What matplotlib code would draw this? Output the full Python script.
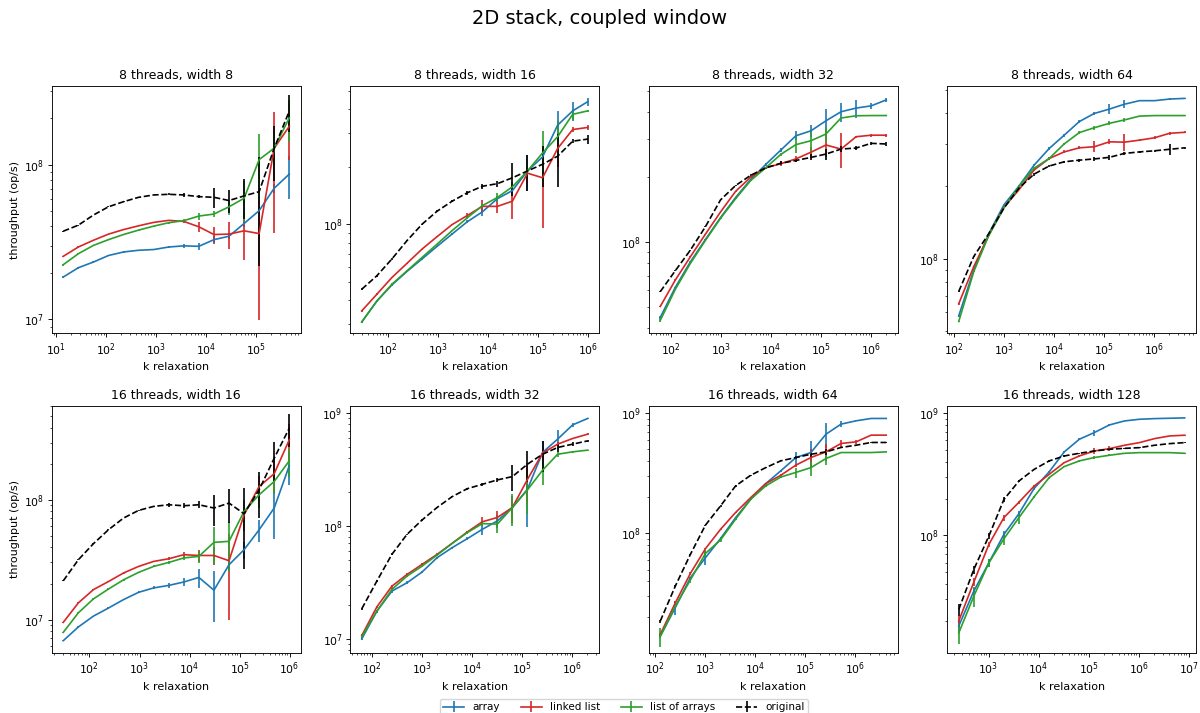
import matplotlib
matplotlib.use("Agg")
import matplotlib.pyplot as plt
from matplotlib.ticker import NullFormatter

# relaxation values (x) per width
k_w8 = [14, 28, 56, 112, 224, 448, 896, 1792, 3584, 7168, 14336, 28672, 57344, 114688, 229376, 458752]
k_w16 = [30, 60, 120, 240, 480, 960, 1920, 3840, 7680, 15360, 30720, 61440, 122880, 245760, 491520, 983040]
k_w32 = [62, 124, 248, 496, 992, 1984, 3968, 7936, 15872, 31744, 63488, 126976, 253952, 507904, 1015808, 2031616]
k_w64 = [126, 252, 504, 1008, 2016, 4032, 8064, 16128, 32256, 64512, 129024, 258048, 516096, 1032192, 2064384, 4128768]
k_w128 = [254, 508, 1016, 2032, 4064, 8128, 16256, 32512, 65024, 130048, 260096, 520192, 1040384, 2080768, 4161536, 8323072]

# throughput in millions of op/s, and error (millions)
# --- 8 threads, width 8
t8w8_array = [18.8, 21.6, 23.5, 25.9, 27.3, 28.0, 28.3, 29.4, 29.9, 29.7, 32.8, 34.5, 41.7, 50.5, 70.5, 87.0]
t8w8_array_err = [0.3, 0.3, 0.3, 0.3, 0.3, 0.3, 0.3, 0.5, 0.8, 1.5, 2.0, 1.5, 2.0, 3.0, 5.0, 27.0]
t8w8_linked = [25.6, 29.4, 32.5, 35.6, 38.1, 40.3, 42.4, 43.7, 43.0, 39.7, 35.4, 35.6, 37.4, 35.9, 128.0, 177.0]
t8w8_linked_err = [0.3, 0.3, 0.3, 0.3, 0.3, 0.3, 0.3, 0.5, 0.8, 3.0, 4.0, 7.0, 13.0, 26.0, 92.0, 70.0]
t8w8_loa = [22.6, 26.6, 30.1, 32.8, 35.4, 37.8, 40.1, 42.2, 43.5, 46.6, 48.0, 53.5, 60.7, 108.0, 128.0, 201.0]
t8w8_loa_err = [0.3, 0.3, 0.3, 0.3, 0.3, 0.3, 0.3, 0.5, 0.8, 2.5, 2.0, 6.0, 18.0, 50.0, 30.0, 60.0]
t8w8_orig = [37.2, 40.7, 47.3, 53.5, 57.7, 61.6, 63.8, 64.4, 63.8, 62.2, 61.6, 58.7, 62.9, 67.0, 128.0, 222.0]
t8w8_orig_err = [0.3, 0.3, 0.3, 0.3, 0.3, 0.3, 0.3, 1.0, 1.5, 1.5, 9.0, 10.0, 18.0, 45.0, 50.0, 60.0]

# --- 8 threads, width 16
t8w16_array = [30.8, 39.6, 48.1, 56.6, 65.8, 76.6, 88.9, 103.0, 116.0, 136.0, 150.0, 190.0, 225.0, 330.0, 392.0, 438.0]
t8w16_array_err = [0.5, 0.5, 0.5, 0.5, 0.5, 0.5, 1.0, 2.0, 6.0, 4.0, 8.0, 40.0, 20.0, 60.0, 45.0, 20.0]
t8w16_linked = [35.2, 43.0, 52.6, 62.4, 74.1, 86.1, 99.6, 111.0, 124.0, 124.0, 132.0, 185.0, 175.0, 249.0, 313.0, 321.0]
t8w16_linked_err = [0.5, 0.5, 0.5, 0.5, 0.5, 0.5, 1.0, 3.0, 10.0, 10.0, 25.0, 20.0, 80.0, 50.0, 8.0, 8.0]
t8w16_loa = [30.8, 39.6, 48.5, 57.0, 67.0, 78.7, 92.6, 108.0, 125.0, 138.0, 157.0, 190.0, 236.0, 287.0, 376.0, 392.0]
t8w16_loa_err = [0.5, 0.5, 0.5, 0.5, 0.5, 0.5, 1.0, 2.0, 3.0, 8.0, 10.0, 15.0, 70.0, 60.0, 25.0, 3.0]
t8w16_orig = [45.7, 53.7, 65.8, 82.0, 100.0, 117.0, 132.0, 146.0, 158.0, 163.0, 175.0, 190.0, 206.0, 227.0, 272.0, 279.0]
t8w16_orig_err = [0.5, 0.5, 0.5, 0.5, 0.5, 1.0, 2.0, 3.0, 5.0, 6.0, 35.0, 40.0, 50.0, 70.0, 7.0, 15.0]

# --- 8 threads, width 32
t8w32_array = [44.8, 61.8, 81.1, 103.0, 130.0, 161.0, 195.0, 229.0, 267.0, 311.0, 328.0, 365.0, 402.0, 418.0, 428.0, 456.0]
t8w32_array_err = [0.5, 0.5, 0.5, 0.5, 0.5, 0.5, 1.0, 3.0, 6.0, 15.0, 20.0, 50.0, 40.0, 40.0, 12.0, 8.0]
t8w32_linked = [50.4, 66.8, 85.6, 109.0, 138.0, 172.0, 200.0, 221.0, 231.0, 243.0, 261.0, 282.0, 270.0, 308.0, 313.0, 313.0]
t8w32_linked_err = [0.5, 0.5, 0.5, 0.5, 0.5, 0.5, 1.0, 2.0, 6.0, 8.0, 15.0, 35.0, 50.0, 3.0, 5.0, 5.0]
t8w32_loa = [43.4, 60.5, 79.8, 102.0, 129.0, 159.0, 193.0, 221.0, 255.0, 283.0, 295.0, 317.0, 376.0, 385.0, 386.0, 386.0]
t8w32_loa_err = [0.5, 0.5, 0.5, 0.5, 0.5, 0.5, 1.0, 2.0, 3.0, 25.0, 30.0, 25.0, 3.0, 2.0, 2.0, 2.0]
t8w32_orig = [59.0, 73.8, 91.9, 118.0, 157.0, 183.0, 204.0, 221.0, 232.0, 239.0, 247.0, 256.0, 270.0, 273.0, 287.0, 285.0]
t8w32_orig_err = [0.5, 0.5, 0.5, 0.5, 0.5, 1.0, 3.0, 3.0, 5.0, 5.0, 8.0, 15.0, 8.0, 5.0, 5.0, 5.0]

# --- 8 threads, width 64
t8w64_array = [57.8, 89.7, 127.0, 167.0, 200.0, 244.0, 286.0, 325.0, 370.0, 400.0, 417.0, 437.0, 452.0, 452.0, 459.0, 462.0]
t8w64_array_err = [0.5, 0.5, 0.5, 0.5, 1.0, 2.0, 3.0, 5.0, 4.0, 4.0, 20.0, 17.0, 3.0, 3.0, 3.0, 2.0]
t8w64_linked = [64.9, 92.6, 125.0, 163.0, 193.0, 233.0, 260.0, 277.0, 288.0, 291.0, 305.0, 304.0, 310.0, 317.0, 331.0, 334.0]
t8w64_linked_err = [0.5, 0.5, 0.5, 0.5, 1.0, 2.0, 3.0, 4.0, 4.0, 15.0, 7.0, 25.0, 3.0, 4.0, 4.0, 3.0]
t8w64_loa = [54.8, 88.3, 125.0, 162.0, 199.0, 237.0, 260.0, 299.0, 333.0, 349.0, 364.0, 376.0, 390.0, 392.0, 392.0, 392.0]
t8w64_loa_err = [0.5, 0.5, 0.5, 0.5, 1.0, 2.0, 3.0, 4.0, 5.0, 7.0, 7.0, 7.0, 2.0, 2.0, 2.0, 2.0]
t8w64_orig = [73.0, 102.0, 127.0, 162.0, 196.0, 224.0, 242.0, 252.0, 256.0, 259.0, 263.0, 273.0, 277.0, 280.0, 284.0, 288.0]
t8w64_orig_err = [0.5, 0.5, 0.5, 0.5, 1.0, 3.0, 3.0, 3.0, 4.0, 4.0, 6.0, 4.0, 3.0, 3.0, 15.0, 3.0]

# --- 16 threads, width 16
t16w16_array = [6.68, 8.69, 10.7, 12.5, 14.7, 16.9, 18.4, 19.3, 20.6, 22.5, 17.6, 28.7, 38.3, 56.2, 85.3, 192.0]
t16w16_array_err = [0.1, 0.1, 0.1, 0.2, 0.2, 0.3, 0.5, 0.8, 1.5, 4.0, 8.0, 3.0, 6.0, 12.0, 38.0, 60.0]
t16w16_linked = [9.5, 13.8, 17.8, 20.8, 24.5, 27.8, 30.6, 32.2, 34.8, 34.3, 34.3, 31.0, 75.0, 129.0, 165.0, 316.0]
t16w16_linked_err = [0.1, 0.1, 0.2, 0.2, 0.3, 0.3, 0.5, 1.0, 2.0, 4.0, 6.0, 21.0, 20.0, 30.0, 50.0, 110.0]
t16w16_loa = [7.84, 11.4, 14.9, 18.0, 21.5, 24.8, 27.8, 30.0, 32.7, 33.7, 44.1, 45.0, 80.0, 110.0, 142.0, 211.0]
t16w16_loa_err = [0.1, 0.1, 0.2, 0.2, 0.3, 0.3, 0.5, 1.0, 1.5, 4.0, 15.0, 20.0, 20.0, 25.0, 30.0, 55.0]
t16w16_orig = [21.1, 31.6, 43.0, 56.2, 70.4, 81.5, 88.0, 90.8, 89.1, 90.8, 85.3, 93.8, 76.4, 121.0, 222.0, 395.0]
t16w16_orig_err = [0.2, 0.3, 0.3, 0.5, 0.5, 1.0, 1.5, 3.0, 4.0, 6.0, 25.0, 30.0, 50.0, 50.0, 80.0, 120.0]

# --- 16 threads, width 32
t16w32_array = [10.0, 17.6, 26.5, 31.4, 39.1, 52.4, 64.3, 77.2, 93.4, 111.0, 146.0, 212.0, 448.0, 588.0, 787.0, 897.0]
t16w32_array_err = [0.3, 0.5, 1.0, 1.0, 1.0, 1.0, 1.5, 2.0, 10.0, 15.0, 20.0, 115.0, 120.0, 120.0, 30.0, 15.0]
t16w32_linked = [10.7, 19.2, 29.3, 37.2, 45.7, 56.1, 70.2, 88.5, 109.0, 119.0, 146.0, 259.0, 442.0, 531.0, 596.0, 651.0]
t16w32_linked_err = [0.3, 0.5, 1.0, 1.0, 1.0, 1.0, 1.0, 2.0, 10.0, 18.0, 40.0, 100.0, 50.0, 20.0, 10.0, 10.0]
t16w32_loa = [10.4, 17.6, 27.4, 36.0, 44.1, 55.3, 70.2, 87.3, 105.0, 104.0, 146.0, 209.0, 312.0, 432.0, 454.0, 470.0]
t16w32_loa_err = [0.3, 0.5, 1.0, 1.0, 1.0, 1.0, 1.0, 2.0, 5.0, 18.0, 45.0, 80.0, 80.0, 20.0, 10.0, 5.0]
t16w32_orig = [18.5, 32.5, 56.1, 84.3, 113.0, 146.0, 182.0, 214.0, 234.0, 256.0, 274.0, 353.0, 432.0, 496.0, 531.0, 568.0]
t16w32_orig_err = [0.3, 0.5, 1.0, 1.0, 2.0, 2.0, 3.0, 5.0, 8.0, 10.0, 70.0, 110.0, 130.0, 40.0, 20.0, 10.0]

# --- 16 threads, width 64
t16w64_array = [13.9, 24.1, 42.7, 62.7, 90.4, 135.0, 192.0, 259.0, 331.0, 427.0, 470.0, 668.0, 810.0, 863.0, 903.0, 903.0]
t16w64_array_err = [0.5, 3.0, 1.0, 8.0, 3.0, 3.0, 3.0, 5.0, 5.0, 50.0, 120.0, 160.0, 50.0, 10.0, 5.0, 5.0]
t16w64_linked = [14.4, 26.4, 46.4, 74.5, 108.0, 149.0, 198.0, 259.0, 304.0, 369.0, 427.0, 476.0, 559.0, 577.0, 656.0, 656.0]
t16w64_linked_err = [0.5, 1.0, 1.0, 1.0, 1.0, 2.0, 3.0, 4.0, 5.0, 10.0, 80.0, 80.0, 40.0, 20.0, 5.0, 5.0]
t16w64_loa = [13.9, 24.8, 40.9, 68.1, 88.0, 131.0, 192.0, 248.0, 294.0, 321.0, 352.0, 419.0, 470.0, 470.0, 470.0, 476.0]
t16w64_loa_err = [2.5, 1.0, 2.5, 4.0, 4.0, 3.0, 3.0, 4.0, 5.0, 30.0, 50.0, 50.0, 5.0, 3.0, 3.0, 3.0]
t16w64_orig = [18.6, 36.4, 66.8, 117.0, 169.0, 248.0, 304.0, 352.0, 401.0, 427.0, 455.0, 476.0, 518.0, 541.0, 570.0, 570.0]
t16w64_orig_err = [0.5, 0.5, 1.0, 1.0, 2.0, 3.0, 3.0, 3.0, 5.0, 10.0, 20.0, 30.0, 5.0, 5.0, 5.0, 5.0]

# --- 16 threads, width 128
t16w128_array = [18.1, 35.0, 59.7, 102.0, 151.0, 242.0, 331.0, 482.0, 612.0, 695.0, 802.0, 865.0, 893.0, 904.0, 910.0, 916.0]
t16w128_array_err = [2.0, 2.0, 5.0, 6.0, 8.0, 5.0, 5.0, 5.0, 10.0, 40.0, 15.0, 5.0, 5.0, 5.0, 5.0, 5.0]
t16w128_linked = [19.9, 41.4, 84.3, 140.0, 187.0, 253.0, 316.0, 394.0, 447.0, 491.0, 513.0, 547.0, 575.0, 620.0, 652.0, 661.0]
t16w128_linked_err = [2.0, 3.0, 4.0, 8.0, 6.0, 5.0, 5.0, 5.0, 10.0, 25.0, 25.0, 5.0, 5.0, 5.0, 5.0, 5.0]
t16w128_loa = [15.9, 31.8, 59.7, 93.9, 140.0, 207.0, 297.0, 366.0, 407.0, 434.0, 453.0, 470.0, 476.0, 476.0, 476.0, 470.0]
t16w128_loa_err = [3.0, 6.0, 5.0, 10.0, 15.0, 5.0, 5.0, 5.0, 5.0, 10.0, 10.0, 3.0, 3.0, 3.0, 3.0, 3.0]
t16w128_orig = [24.7, 52.6, 98.8, 197.0, 279.0, 347.0, 407.0, 447.0, 470.0, 491.0, 507.0, 516.0, 523.0, 547.0, 564.0, 575.0]
t16w128_orig_err = [3.0, 4.0, 5.0, 10.0, 5.0, 5.0, 5.0, 5.0, 5.0, 5.0, 5.0, 5.0, 5.0, 5.0, 5.0, 5.0]

titles = ["8 threads, width 8", "8 threads, width 16", "8 threads, width 32", "8 threads, width 64",
          "16 threads, width 16", "16 threads, width 32", "16 threads, width 64", "16 threads, width 128"]
x_sets = [k_w8, k_w16, k_w32, k_w64, k_w16, k_w32, k_w64, k_w128]
y_limits = [(8.15e6, 3.23e8), (2.69e7, 5.29e8), (3.79e7, 5.29e8), (4.9e7, 5.2e8),
            (5.27e6, 6.07e8), (7.5e6, 1.16e9), (1.01e7, 1.15e9), (1.09e7, 1.15e9)]

panels = [
    [(t8w8_array, t8w8_array_err), (t8w8_linked, t8w8_linked_err), (t8w8_loa, t8w8_loa_err), (t8w8_orig, t8w8_orig_err)],
    [(t8w16_array, t8w16_array_err), (t8w16_linked, t8w16_linked_err), (t8w16_loa, t8w16_loa_err), (t8w16_orig, t8w16_orig_err)],
    [(t8w32_array, t8w32_array_err), (t8w32_linked, t8w32_linked_err), (t8w32_loa, t8w32_loa_err), (t8w32_orig, t8w32_orig_err)],
    [(t8w64_array, t8w64_array_err), (t8w64_linked, t8w64_linked_err), (t8w64_loa, t8w64_loa_err), (t8w64_orig, t8w64_orig_err)],
    [(t16w16_array, t16w16_array_err), (t16w16_linked, t16w16_linked_err), (t16w16_loa, t16w16_loa_err), (t16w16_orig, t16w16_orig_err)],
    [(t16w32_array, t16w32_array_err), (t16w32_linked, t16w32_linked_err), (t16w32_loa, t16w32_loa_err), (t16w32_orig, t16w32_orig_err)],
    [(t16w64_array, t16w64_array_err), (t16w64_linked, t16w64_linked_err), (t16w64_loa, t16w64_loa_err), (t16w64_orig, t16w64_orig_err)],
    [(t16w128_array, t16w128_array_err), (t16w128_linked, t16w128_linked_err), (t16w128_loa, t16w128_loa_err), (t16w128_orig, t16w128_orig_err)],
]

series_labels = ["array", "linked list", "list of arrays", "original"]
series_colors = ["#1f77b4", "#d62728", "#2ca02c", "black"]
series_styles = ["-", "-", "-", "--"]

plt.rcParams["font.family"] = "DejaVu Sans"
plt.rcParams["font.size"] = 8
for ax_name in ("xtick", "ytick"):
    plt.rcParams[ax_name + ".major.size"] = 2.8
    plt.rcParams[ax_name + ".minor.size"] = 1.6
    plt.rcParams[ax_name + ".major.pad"] = 2.8
    plt.rcParams[ax_name + ".minor.pad"] = 2.7
    plt.rcParams[ax_name + ".major.width"] = 0.64
    plt.rcParams[ax_name + ".minor.width"] = 0.48
plt.rcParams["axes.linewidth"] = 0.64
plt.rcParams["axes.labelpad"] = 3.2
plt.rcParams["axes.titlepad"] = 4.8

fig, axes = plt.subplots(2, 4, figsize=(12, 7.13), dpi=100)
fig.subplots_adjust(left=52 / 1200, right=1196 / 1200, top=1 - 86 / 713, bottom=1 - 653 / 713,
                    wspace=0.2008, hspace=0.294)

handles = []
for idx, ax in enumerate(axes.flat):
    xs = x_sets[idx]
    for s, (vals, errs) in enumerate(panels[idx]):
        ys = [v * 1e6 for v in vals]
        es = [e * 1e6 for e in errs]
        h = ax.errorbar(xs, ys, yerr=es, color=series_colors[s], linestyle=series_styles[s],
                        linewidth=1.2, elinewidth=1.2, capsize=0, label=series_labels[s])
        if idx == 0:
            handles.append(h)
    ax.set_xscale("log")
    ax.set_yscale("log")
    ax.set_ylim(*y_limits[idx])
    ax.yaxis.set_minor_formatter(NullFormatter())
    ax.xaxis.set_minor_formatter(NullFormatter())
    ax.set_title(titles[idx], fontsize=9)
    ax.set_xlabel("k relaxation", fontsize=8)
    ax.tick_params(labelsize=7.8)
    if idx % 4 == 0:
        ax.set_ylabel("throughput (op/s)", fontsize=8)

fig.suptitle("2D stack, coupled window", fontsize=14, y=1 - 18 / 713, va="center")
fig.legend(handles, series_labels, loc="lower center", ncol=4, fontsize=7.5,
           bbox_to_anchor=(0.52, -0.004), borderaxespad=0.0, borderpad=0.35)

fig.savefig("out.png", dpi=100)
